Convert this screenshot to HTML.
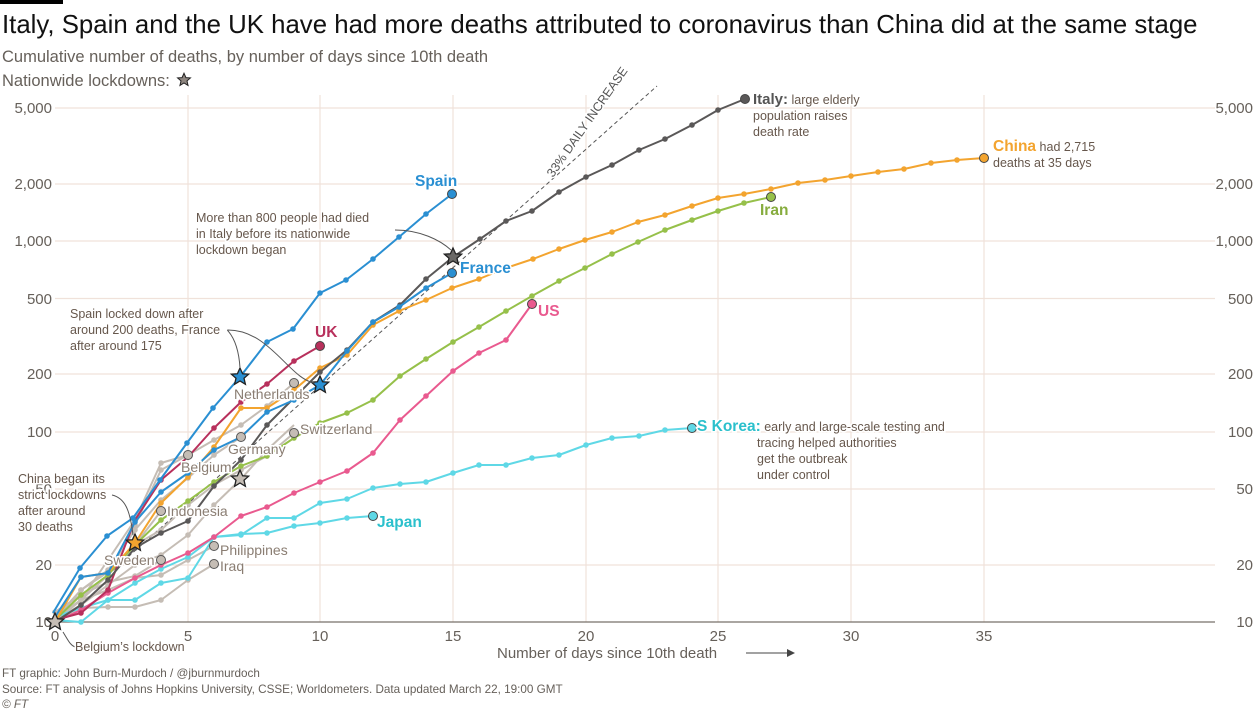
<!DOCTYPE html>
<html><head><meta charset="utf-8"><style>
body{margin:0;background:#fff;width:1260px;height:709px;overflow:hidden;font-family:"Liberation Sans",sans-serif}
svg text{font-family:"Liberation Sans",sans-serif}
.ann{fill:#66574c;font-size:12.5px;paint-order:stroke;stroke:#fff;stroke-width:3px}
.ax{fill:#66605a;font-size:15px}
.lab{font-size:15.5px;font-weight:bold;paint-order:stroke;stroke:#fff;stroke-width:3px}
.glab{fill:#8a7d72;font-size:14px;paint-order:stroke;stroke:#fff;stroke-width:3px}
</style></head><body>
<svg width="1260" height="709" xmlns="http://www.w3.org/2000/svg">
<defs>
<marker id="mg" markerUnits="userSpaceOnUse" markerWidth="8" markerHeight="8" refX="4" refY="4"><circle cx="4" cy="4" r="2.8" fill="#c5bdb5"/></marker>
<marker id="mc" markerUnits="userSpaceOnUse" markerWidth="8" markerHeight="8" refX="4" refY="4"><circle cx="4" cy="4" r="2.8" fill="#5fd8e6"/></marker>
<marker id="mp" markerUnits="userSpaceOnUse" markerWidth="8" markerHeight="8" refX="4" refY="4"><circle cx="4" cy="4" r="2.8" fill="#e95a8f"/></marker>
<marker id="mgr" markerUnits="userSpaceOnUse" markerWidth="8" markerHeight="8" refX="4" refY="4"><circle cx="4" cy="4" r="2.8" fill="#96c04a"/></marker>
<marker id="mo" markerUnits="userSpaceOnUse" markerWidth="8" markerHeight="8" refX="4" refY="4"><circle cx="4" cy="4" r="2.8" fill="#f3a42f"/></marker>
<marker id="mu" markerUnits="userSpaceOnUse" markerWidth="8" markerHeight="8" refX="4" refY="4"><circle cx="4" cy="4" r="2.8" fill="#b8305c"/></marker>
<marker id="mi" markerUnits="userSpaceOnUse" markerWidth="8" markerHeight="8" refX="4" refY="4"><circle cx="4" cy="4" r="2.8" fill="#5a5858"/></marker>
<marker id="mb" markerUnits="userSpaceOnUse" markerWidth="8" markerHeight="8" refX="4" refY="4"><circle cx="4" cy="4" r="2.8" fill="#2a8fd2"/></marker>
<polygon id="st" points="0,-9 2.6,-3.2 8.6,-2.8 4,1.2 5.4,7.3 0,4 -5.4,7.3 -4,1.2 -8.6,-2.8 -2.6,-3.2" stroke="#222" stroke-width="1.3"/>
</defs>
<rect x="0" y="0" width="63" height="4" fill="#000"/>
<text x="2" y="33" font-size="25.8" fill="#111">Italy, Spain and the UK have had more deaths attributed to coronavirus than China did at the same stage</text>
<text x="2" y="62" font-size="16.5" fill="#66605a">Cumulative number of deaths, by number of days since 10th death</text>
<text x="2" y="86" font-size="16.5" fill="#66605a">Nationwide lockdowns:</text>
<polygon transform="translate(184,80) scale(0.75)" points="0,-9 2.6,-3.2 8.6,-2.8 4,1.2 5.4,7.3 0,4 -5.4,7.3 -4,1.2 -8.6,-2.8 -2.6,-3.2" fill="#8e8680" stroke="#222" stroke-width="1.3"/>
<g stroke="#f0e2da" stroke-width="1.2">
<line x1="55" x2="1215" y1="108" y2="108"/><line x1="55" x2="1215" y1="184" y2="184"/><line x1="55" x2="1215" y1="241" y2="241"/><line x1="55" x2="1215" y1="298.5" y2="298.5"/><line x1="55" x2="1215" y1="374" y2="374"/><line x1="55" x2="1215" y1="432" y2="432"/><line x1="55" x2="1215" y1="489" y2="489"/><line x1="55" x2="1215" y1="565" y2="565"/>
<line x1="188" x2="188" y1="95" y2="622"/><line x1="320" x2="320" y1="95" y2="622"/><line x1="453" x2="453" y1="95" y2="622"/><line x1="586" x2="586" y1="95" y2="622"/><line x1="718" x2="718" y1="95" y2="622"/><line x1="851" x2="851" y1="95" y2="622"/><line x1="984" x2="984" y1="95" y2="622"/>
</g>
<line x1="55" x2="1215" y1="622" y2="622" stroke="#77706a" stroke-width="1.2"/>
<g class="ax" text-anchor="end">
<text x="52" y="113">5,000</text><text x="52" y="189">2,000</text><text x="52" y="246">1,000</text><text x="52" y="304">500</text><text x="52" y="379">200</text><text x="52" y="437">100</text><text x="52" y="494">50</text><text x="52" y="570">20</text><text x="52" y="627">10</text>
<text x="1253" y="113">5,000</text><text x="1253" y="189">2,000</text><text x="1253" y="246">1,000</text><text x="1253" y="304">500</text><text x="1253" y="379">200</text><text x="1253" y="437">100</text><text x="1253" y="494">50</text><text x="1253" y="570">20</text><text x="1253" y="627">10</text>
</g>
<g class="ax" text-anchor="middle">
<text x="55" y="641">0</text><text x="188" y="641">5</text><text x="320" y="641">10</text><text x="453" y="641">15</text><text x="586" y="641">20</text><text x="718" y="641">25</text><text x="851" y="641">30</text><text x="984" y="641">35</text>
</g>
<text x="497" y="658" font-size="15" fill="#66605a">Number of days since 10th death</text>
<line x1="746" x2="790" y1="653" y2="653" stroke="#444" stroke-width="1"/><polygon points="795,653 787,649 787,657" fill="#444"/>
<line x1="55" y1="622" x2="657" y2="86" stroke="#555" stroke-width="1" stroke-dasharray="4,3"/>
<text transform="translate(553,178) rotate(-55)" font-size="12" class="ann" style="fill:#555">33% DAILY INCREASE</text>
<g fill="none" stroke-width="2" stroke-linejoin="round">
<g stroke="#c5bdb5" marker-start="url(#mg)" marker-mid="url(#mg)">
<polyline points="55,618 81,600 108,560 135,520 161,463 188,455 214,440 241,425 267,406 294,383"/>
<polyline points="55,620 81,590 108,570 135,530 161,500 188,478 214,455 241,437"/>
<polyline points="55,620 81,600 108,575 135,545 161,530 188,505 214,485 241,470 267,456 294,433"/>
<polyline points="55,622 81,600 108,575 135,525 161,470 188,455"/>
<polyline points="55,618 81,590 108,572 135,545 161,511"/>
<polyline points="55,612 81,595 108,582 135,576 161,560"/>
<polyline points="55,618 81,600 108,590 135,578 161,575 188,560 214,546"/>
<polyline points="55,622 81,608 108,607 135,607 161,600 188,580 214,564"/>
<polyline points="55,620 81,605 108,585 135,565 161,555 188,535 214,505 241,479 267,450 294,425"/>
</g>
<polyline stroke="#5fd8e6" marker-mid="url(#mc)" points="55,620 81,622 108,600 135,600 161,583 188,578 214,537 241,535 267,518 294,518 320,503 347,499 373,488 400,484 426,482 453,473 479,465 506,465 532,458 559,455 586,445 612,438 639,436 665,430 692,428"/>
<polyline stroke="#5fd8e6" marker-mid="url(#mc)" points="55,617 81,608 108,600 135,583 161,569 188,557 214,537 241,534 267,533 294,526 320,523 347,518 373,516"/>
<polyline stroke="#e95a8f" marker-mid="url(#mp)" points="55,622 81,610 108,593 135,578 161,565 188,553 214,537 241,516 267,507 294,493 320,482 347,471 373,453 400,420 426,396 453,371 479,353 506,340 532,304"/>
<polyline stroke="#96c04a" marker-mid="url(#mgr)" points="55,620 81,595 108,575 135,545 161,520 188,501 214,482 241,466 267,456 294,438 320,423 347,413 373,400 400,376 426,359 453,342 479,327 506,311 532,296 559,281 585,268 612,254 638,242 665,230 692,220 718,211 744,203 771,197"/>
<polyline stroke="#f3a42f" marker-mid="url(#mo)" points="55,622 81,577 108,573 135,543 161,503 188,477 214,447 241,408 267,408 294,390 320,368 347,355 373,325 399,311 426,300 452,288 479,279 506,268 533,259 559,249 585,240 612,232 638,222 665,215 692,206 718,198 744,194 771,189 798,183 825,180 851,176 878,172 904,169 931,163 957,160 984,158"/>
<polyline stroke="#b8305c" marker-mid="url(#mu)" points="55,620 81,613 108,590 135,520 161,480 188,457 214,428 241,402 267,384 294,361 320,346"/>
<polyline stroke="#5a5858" marker-mid="url(#mi)" points="55,622 81,605 108,580 135,548 161,533 188,521 214,486 241,460 267,425 294,398 320,372 347,350 373,322 400,305 426,279 453,257 480,239 506,221 532,211 559,192 586,177 612,165 639,150 665,139 692,125 718,110 745,99"/>
<polyline stroke="#2a8fd2" marker-mid="url(#mb)" points="55,617 81,577 108,573 135,522 161,492 188,473 214,450 241,437 267,412 294,400 320,385 347,351 373,322 399,307 426,288 452,273"/>
<polyline stroke="#2a8fd2" marker-mid="url(#mb)" points="53,613 80,568 107,536 133,518 160,480 187,443 213,408 240,377 267,342 293,329 320,293 346,280 373,259 399,237 426,214 452,194"/>
</g>
<g fill="#c5bdb5" stroke="#555" stroke-width="1">
<circle cx="294" cy="383" r="4.5"/><circle cx="241" cy="437" r="4.5"/><circle cx="294" cy="433" r="4.5"/><circle cx="188" cy="455" r="4.5"/><circle cx="161" cy="511" r="4.5"/><circle cx="161" cy="560" r="4.5"/><circle cx="214" cy="546" r="4.5"/><circle cx="214" cy="564" r="4.5"/>
</g>
<circle cx="692" cy="428" r="4.5" fill="#5fd8e6" stroke="#444"/><circle cx="373" cy="516" r="4.5" fill="#5fd8e6" stroke="#444"/>
<circle cx="532" cy="304" r="4.5" fill="#e95a8f" stroke="#444"/><circle cx="771" cy="197" r="4.5" fill="#96c04a" stroke="#444"/>
<circle cx="984" cy="158" r="4.5" fill="#f3a42f" stroke="#444"/><circle cx="320" cy="346" r="4.5" fill="#b8305c" stroke="#444"/>
<circle cx="745" cy="99" r="4.5" fill="#5a5858" stroke="#444"/><circle cx="452" cy="273" r="4.5" fill="#2a8fd2" stroke="#444"/><circle cx="452" cy="194" r="4.5" fill="#2a8fd2" stroke="#444"/>
<use href="#st" x="240" y="377" fill="#2a8fd2"/><use href="#st" x="320" y="385" fill="#2a8fd2"/><use href="#st" x="453" y="257" fill="#6a6866"/><use href="#st" x="135" y="543" fill="#f3a42f"/><use href="#st" x="240" y="479" fill="#c5bdb5"/><use href="#st" x="55" y="622" fill="#c5bdb5"/>
<g fill="none" stroke="#555" stroke-width="1">
<path d="M228,330 C 225,330 238,335 240,368"/>
<path d="M228,330 C 270,330 290,380 315,383"/>
<path d="M395,230 C 420,230 440,240 451,250"/>
<path d="M112,495 C 125,498 130,510 133,535"/>
<path d="M63,632 C 68,640 70,645 75,647"/>
</g>
<g class="ann">
<text x="70" y="318">Spain locked down after</text><text x="70" y="334">around 200 deaths, France</text><text x="70" y="350">after around 175</text>
<text x="196" y="222">More than 800 people had died</text><text x="196" y="238">in Italy before its nationwide</text><text x="196" y="254">lockdown began</text>
<text x="18" y="483">China began its</text><text x="18" y="499">strict lockdowns</text><text x="18" y="515">after around</text><text x="18" y="531">30 deaths</text>
<text x="75" y="651">Belgium’s lockdown</text>
<text x="753" y="104"><tspan font-weight="bold" font-size="15" fill="#555">Italy:</tspan> large elderly</text><text x="753" y="120">population raises</text><text x="753" y="136">death rate</text>
<text x="993" y="151"><tspan font-weight="bold" font-size="15.5" fill="#f3a42f">China</tspan> had 2,715</text><text x="993" y="167">deaths at 35 days</text>
<text x="697" y="431"><tspan font-weight="bold" font-size="15.5" fill="#2bc0cc">S Korea:</tspan> early and large-scale testing and</text><text x="757" y="447">tracing helped authorities</text><text x="757" y="463">get the outbreak</text><text x="757" y="479">under control</text>
</g>
<text x="760" y="215" class="lab" fill="#86ac3e">Iran</text>
<text x="415" y="186" class="lab" fill="#2a8fd2">Spain</text>
<text x="460" y="273" class="lab" fill="#2a8fd2">France</text>
<text x="315" y="337" class="lab" fill="#b8305c">UK</text>
<text x="538" y="316" class="lab" fill="#e95a8f">US</text>
<text x="377" y="527" class="lab" fill="#2bc0cc">Japan</text>
<g class="glab">
<text x="234" y="399">Netherlands</text><text x="228" y="454">Germany</text><text x="300" y="434">Switzerland</text><text x="181" y="472">Belgium</text><text x="167" y="516">Indonesia</text><text x="104" y="565">Sweden</text><text x="220" y="555">Philippines</text><text x="220" y="571">Iraq</text>
</g>
<g font-size="11.7" fill="#66605a">
<text x="2" y="677">FT graphic: John Burn-Murdoch / @jburnmurdoch</text>
<text x="2" y="693">Source: FT analysis of Johns Hopkins University, CSSE; Worldometers. Data updated March 22, 19:00 GMT</text>
<text x="2" y="708" font-style="italic">© FT</text>
</g>
</svg>
</body></html>
